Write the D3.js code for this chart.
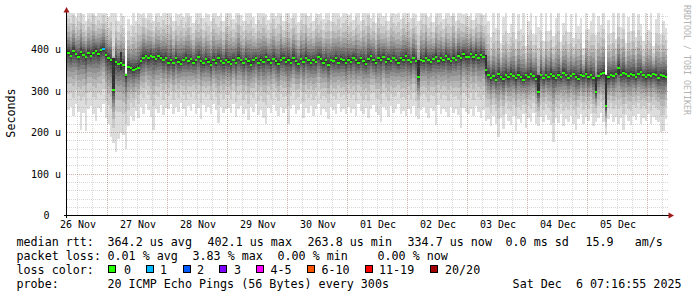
<!DOCTYPE html>
<html>
<head>
<meta charset="utf-8">
<script src="https://cdn.jsdelivr.net/npm/d3@7/dist/d3.min.js"></script>
<style>
  body { margin: 0; background: #fff; }
  svg { display: block; font-family: "DejaVu Sans Mono", monospace; }
</style>
</head>
<body>
<svg id="chart" width="697" height="297"></svg>
<script>
// hourly values, 26 Nov 08:00 -> 06 Dec 08:00 (240 steps), microseconds
const median = [
  393,386,397,389,383,394,388,383,391,386,393,397,389,399,
  402,
  387,380,374,303,370,366,368,363,339,358,355,351,354,357,372,381,384,379,385,382,378,384,381,376,380,
  369,374,368,379,371,366,376,380,372,377,369,374,382,372,368,377,371,364,374,369,379,372,368,376,
  371,366,376,369,380,374,368,377,372,364,374,379,369,376,371,382,374,368,377,372,366,376,380,371,
  376,369,379,372,366,377,371,380,374,368,376,371,382,377,369,374,364,376,372,379,369,377,374,368,
  376,371,380,374,369,379,372,366,377,384,374,369,379,376,382,371,377,372,380,374,368,379,376,384,
  375,370,380,373,334,376,372,381,375,370,378,383,373,380,375,384,378,372,381,376,386,380,389,383,
  383,390,382,388,380,387,383,
  352,
  339,331,336,328,341,334,330,338,333,342,336,331,339,334,328,338,333,341,336,330,298,338,331,339,
  334,342,336,331,339,333,344,338,331,336,341,334,330,339,336,342,333,338,331,298,336,341,344,264,
  333,339,336,342,356,338,344,341,336,342,339,334,341,346,338,333,339,336,342,338,331,339,336,335
];
// lowest ping of each hour
const pingMin = [
  255,262,240,270,250,206,248,204,258,265,244,228,260,250,
  268,235,222,190,175,153,186,200,194,160,215,240,228,252,236,262,245,270,255,238,206,258,248,266,242,260,
  256,268,244,262,250,272,258,240,264,252,270,246,259,234,266,250,262,245,270,255,224,262,248,258,
  260,248,270,238,256,265,244,258,230,262,250,268,242,255,236,222,260,247,266,252,240,262,248,256,
  222,258,266,245,254,270,236,260,248,264,240,256,268,243,258,250,234,262,255,244,268,250,258,246,
  262,248,256,240,268,252,244,260,236,258,266,250,242,226,262,254,238,264,248,256,270,245,252,240,
  258,246,264,240,232,255,262,248,236,260,252,218,266,244,258,250,238,262,248,256,242,211,260,250,
  246,258,240,264,250,236,255,
  228,
  232,215,240,222,190,236,210,245,228,218,240,205,232,224,244,212,236,226,248,220,215,238,226,242,
  230,218,178,236,224,244,215,232,226,240,220,206,234,246,222,238,228,244,216,226,236,248,225,194,
  232,244,226,238,220,236,206,242,228,218,240,230,246,222,236,228,244,220,238,230,226,201,205,232
];
// highest ping of each hour
const pingMax = [
  505,490,512,478,498,520,486,470,502,494,515,482,500,488,
  510,495,478,500,520,505,468,490,482,345,475,460,492,470,498,485,510,476,502,490,468,515,496,480,505,488,
  492,515,470,500,486,508,478,496,520,482,464,505,490,512,476,498,487,470,510,494,480,502,468,515,
  488,506,474,498,520,484,470,500,492,512,478,462,505,490,515,486,472,498,508,480,494,518,470,502,
  496,476,510,488,466,504,492,520,480,498,470,512,486,502,475,494,516,468,500,488,510,478,496,506,
  484,500,472,514,492,468,506,488,520,476,498,464,510,490,482,504,470,516,494,486,502,474,512,490,
  498,476,510,486,470,504,492,520,478,500,466,512,488,496,474,508,490,482,516,468,502,494,486,510,
  480,498,472,506,490,516,484,
  500,
  470,430,505,452,488,415,478,500,440,462,512,425,485,450,495,410,470,505,438,480,455,498,420,490,
  446,508,432,476,495,418,465,500,442,485,428,512,458,476,405,490,450,470,502,435,480,460,495,342,
  472,440,505,425,488,455,498,415,478,445,510,430,486,462,420,500,448,492,410,475,505,438,468,452
];
// hours where the middle pings split wide apart: [hour, low, high]
const darkStreaks = [[18,303,379],[21,351,395],[140,334,375],[167,339,387],[188,298,339],[211,298,335],[215,264,339],[220,339,356]];
// hours with lost pings
const lossEvents = [{hour: 14, lost: 1}];

const dayLabels = ['26 Nov','27 Nov','28 Nov','29 Nov','30 Nov','01 Dec','02 Dec','03 Dec','04 Dec','05 Dec'];
const yTicks = [0, 100, 200, 300, 400];
const yTickLabels = ['0', '100 u', '200 u', '300 u', '400 u'];

const lossLabels = ['0','1','2','3','4-5','6-10','11-19','20/20'];
const lossColors = ['#26ff00','#00b8ff','#0059ff','#7e00ff','#ff00ff','#ff5500','#ff0000','#a10000'];

const rttStats = ['364.2 us avg','402.1 us max','263.8 us min','334.7 us now','0.0 ms sd','15.9   am/s'];
const lossStats = ['0.01 % avg','3.83 % max','0.00 % min','0.00 % now'];
const probeText = '20 ICMP Echo Pings (56 Bytes) every 300s';
const stampText = 'Sat Dec  6 07:16:55 2025';

const HOUR = 3600e3;
const start = Date.UTC(2025, 10, 26, 8);
const end = start + median.length * HOUR;

// shape of the smoke between median and the extreme pings
const belowOffsets = [90, 68, 53, 41, 31, 23, 15, 8, 3];
const aboveOffsets = [3, 8, 14, 21, 29, 38, 48, 62, 82];

const svg = d3.select('#chart');
const plotL = 67, plotR = 667, plotT = 14, plotB = 215.7;

const x = d3.scaleUtc().domain([start, end]).range([plotL, plotR]);
const y = d3.scaleLinear().domain([0, 486]).range([plotB, plotT]);
const snap = v => Math.floor(v + 0.001) + 0.5;

const rows = median.map((m, i) => {
  const lo = pingMin[i], hi = pingMax[i];
  const sLo = Math.max(0.5, Math.min(1.3, (m - lo) / 125));
  const sHi = Math.max(0.05, Math.min(1.3, (hi - m) / 110));
  const p = [lo];
  belowOffsets.forEach(o => p.push(Math.max(lo, m - o * sLo)));
  aboveOffsets.forEach(o => p.push(Math.min(hi, m + o * sHi)));
  p.push(hi);
  return { t: new Date(start + i * HOUR), m: m, p: p, i: i };
});
const stepRows = rows.concat([Object.assign({}, rows[rows.length - 1], { t: new Date(end) })]);

svg.append('defs').append('clipPath').attr('id', 'plot')
  .append('rect').attr('x', plotL).attr('y', 13).attr('width', plotR - plotL).attr('height', plotB - 13);

// smoke
const smoke = svg.append('g').attr('clip-path', 'url(#plot)').attr('shape-rendering', 'crispEdges');
for (let k = 0; k < 10; k++) {
  const g = (19 * (9 - k) + 50).toString(16).padStart(2, '0');
  const area = d3.area().curve(d3.curveStepAfter)
    .x(d => x(d.t))
    .y0(d => y(d.p[k]))
    .y1(d => y(d.p[19 - k]));
  smoke.append('path').datum(stepRows).attr('d', area).attr('fill', '#' + g + g + g);
}
smoke.selectAll('rect.streak').data(darkStreaks).enter().append('rect')
  .attr('class', 'streak')
  .attr('x', d => x(start + d[0] * HOUR))
  .attr('width', d => x(start + (d[0] + 1) * HOUR) - x(start + d[0] * HOUR))
  .attr('y', d => y(d[2]))
  .attr('height', d => y(d[1]) - y(d[2]))
  .attr('fill', '#323232');

// grid
const grid = svg.append('g').attr('stroke-dasharray', '1,1').attr('fill', 'none').attr('shape-rendering', 'crispEdges');
const minorY = d3.range(20, 481, 20).filter(v => v % 100 !== 0);
grid.selectAll('line.my').data(minorY).enter().append('line')
  .attr('x1', plotL).attr('x2', plotR + 1)
  .attr('y1', d => snap(y(d))).attr('y2', d => snap(y(d)))
  .attr('stroke', 'rgba(140,140,140,0.35)');
const minorX = d3.utcHour.every(6).range(new Date(start), new Date(end)).filter(t => t.getUTCHours() !== 0);
grid.selectAll('line.mx').data(minorX).enter().append('line')
  .attr('y1', plotT).attr('y2', plotB)
  .attr('x1', d => snap(x(d))).attr('x2', d => snap(x(d)))
  .attr('stroke', 'rgba(140,140,140,0.35)');
grid.selectAll('line.My').data(yTicks.slice(1)).enter().append('line')
  .attr('x1', plotL).attr('x2', plotR + 1)
  .attr('y1', d => snap(y(d))).attr('y2', d => snap(y(d)))
  .attr('stroke', 'rgba(130,30,30,0.35)');
const majorX = d3.utcDay.range(new Date(start), new Date(end));
grid.selectAll('line.Mx').data(majorX).enter().append('line')
  .attr('y1', plotT).attr('y2', plotB)
  .attr('x1', d => snap(x(d))).attr('x2', d => snap(x(d)))
  .attr('stroke', 'rgba(130,30,30,0.35)');

// median, coloured by loss
const lossColor = n => lossColors[n <= 3 ? n : n <= 5 ? 4 : n <= 10 ? 5 : n <= 19 ? 6 : 7];
const lossByHour = new Map(lossEvents.map(e => [e.hour, e.lost]));
svg.append('g').attr('shape-rendering', 'crispEdges')
  .selectAll('rect').data(rows).enter().append('rect')
  .attr('x', d => x(d.t))
  .attr('width', d => x(new Date(+d.t + HOUR)) - x(d.t))
  .attr('y', d => y(d.m) - 1)
  .attr('height', 2)
  .attr('fill', d => lossColor(lossByHour.get(d.i) || 0));

// axes
const axes = svg.append('g').attr('shape-rendering', 'crispEdges');
axes.append('line').attr('x1', 66.5).attr('x2', 66.5).attr('y1', 12).attr('y2', 218).attr('stroke', '#000');
axes.append('line').attr('x1', 64).attr('x2', 670).attr('y1', 215.5).attr('y2', 215.5).attr('stroke', '#000');
svg.append('path').attr('d', 'M63.5,12.5 L66.5,7 L69.5,12.5 Z').attr('fill', '#a11a1a');
svg.append('path').attr('d', 'M668.5,212.5 L674,215.5 L668.5,218.5 Z').attr('fill', '#a11a1a');

// tick labels
svg.selectAll('text.yl').data(yTicks).enter().append('text')
  .attr('x', (d, i) => i === 0 ? 49.5 : 61)
  .attr('y', d => y(d) + 3.6)
  .attr('text-anchor', 'end')
  .style('font-size', '10px')
  .text((d, i) => yTickLabels[i]);
svg.selectAll('text.xl').data(dayLabels).enter().append('text')
  .attr('x', (d, i) => x(majorX[0].getTime() - 12 * HOUR + i * 24 * HOUR) + 1)
  .attr('y', 227.5)
  .attr('text-anchor', 'middle')
  .style('font-size', '10px')
  .text(d => d);

svg.append('text')
  .attr('transform', 'translate(14.5,113) rotate(-90)')
  .attr('text-anchor', 'middle')
  .style('font-size', '11.7px')
  .text('Seconds');
svg.append('text')
  .attr('transform', 'translate(684,5) rotate(90)')
  .attr('fill', '#b3b3b3')
  .attr('textLength', 110)
  .attr('lengthAdjust', 'spacingAndGlyphs')
  .style('font-size', '9px')
  .text('RRDTOOL / TOBI OETIKER');

// legend
const legend = svg.append('g').style('font-size', '11.7px').attr('xml:space', 'preserve');
const put = (t, px, py, anchor) => legend.append('text').attr('x', px).attr('y', py)
  .attr('text-anchor', anchor || 'start').style('white-space', 'pre').text(t);
const lineY = [246, 260, 274, 288];
put('median rtt:', 16.5, lineY[0]);
[107.5, 207.5, 307.5, 407.5, 505.5, 585.5].forEach((px, i) => put(rttStats[i], px, lineY[0]));
put('packet loss:', 16.5, lineY[1]);
[107.5, 192.5, 277.5, 377.5].forEach((px, i) => put(lossStats[i], px, lineY[1]));
put('loss color:', 16.5, lineY[2]);
const boxX = [108, 145.5, 182.5, 219, 256, 307, 365, 430];
const labX = [124, 160, 197, 234, 270.5, 321.5, 379, 445];
lossLabels.forEach((l, i) => {
  legend.append('rect').attr('x', boxX[i] + 0.5).attr('y', 265.5).attr('width', 7).attr('height', 7)
    .attr('fill', lossColors[i]).attr('stroke', '#000').attr('shape-rendering', 'crispEdges');
  put(l, labX[i], lineY[2]);
});
put('probe:', 16.5, lineY[3]);
put(probeText, 107.5, lineY[3]);
put(stampText, 681.5, lineY[3], 'end');
</script>
</body>
</html>
